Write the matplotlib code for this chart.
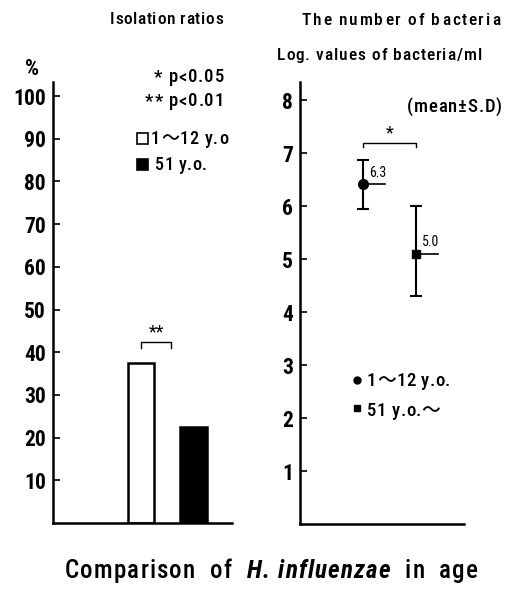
import numpy as np
import matplotlib.pyplot as plt

plt.rcParams['font.family'] = ['Roboto Condensed', 'DejaVu Sans', 'Noto Sans CJK JP']

# isolation ratios (%)
groups = ['1～12 y.o', '51 y.o.']
isolation = [37.5, 22.5]
pct_ticks = [10, 20, 30, 40, 50, 60, 70, 80, 90, 100]

# log values of bacteria/ml
point_groups = ['1～12 y.o.', '51 y.o.～']
means = [6.42, 5.1]
sd_low = [0.47, 0.8]
sd_high = [0.44, 0.9]
mean_labels = ['6.3', '5.0']
log_ticks = [1, 2, 3, 4, 5, 6, 7, 8]

W, H = 514, 593
fig = plt.figure(figsize=(W / 100, H / 100), dpi=100)
renderer = fig.canvas.get_renderer()


def box(x0, x1, top, bottom):
    return [x0 / W, (H - bottom) / H, (x1 - x0) / W, (bottom - top) / H]


def ink(s, kw):
    t = fig.text(0, 0, s, **kw)
    w = t.get_window_extent(renderer).width
    t.remove()
    return w


def spaced(x0, x1, base, parts, size):
    # letter-spaced text filling x0..x1 (pixels from the left), baseline at base (from top)
    chars = []
    for s, style in parts:
        kw = dict(fontsize=size, **style)
        nn = ink('nn', kw)
        for ch in s:
            chars.append((ch, ink('n' + ch + 'n', kw) - nn, kw))
    gap = max(0.5, (x1 - x0 - sum(c[1] for c in chars)) / (len(chars) - 1))
    x = x0
    for ch, w, kw in chars:
        if ch != ' ':
            fig.text(x / W, 1 - base / H, ch, ha='left', va='baseline', **kw)
        x += w + gap


ax1 = fig.add_axes(box(53, 232, 82, 523))
ax2 = fig.add_axes(box(300, 464, 82, 524))

for ax in (ax1, ax2):
    for s in ('top', 'right'):
        ax.spines[s].set_visible(False)
    for s in ('left', 'bottom'):
        ax.spines[s].set_linewidth(1.8)
    ax.tick_params(axis='y', direction='in', length=5, width=1.2, pad=5,
                   labelsize=15.5)
    ax.tick_params(axis='x', bottom=False, labelbottom=False)

# left panel: bars
xpos = [1.7, 2.7]
ax1.bar(xpos[0], isolation[0], 0.5, color='white', edgecolor='black', linewidth=1.8)
ax1.bar(xpos[1], isolation[1], 0.5, color='black', edgecolor='black', linewidth=1.8)
ax1.set_xlim(0, 3.44)
ax1.set_ylim(0, 103.3)
ax1.set_yticks(pct_ticks)
ax1.set_yticklabels([str(t) for t in pct_ticks], fontweight='bold')

bx = [xpos[0], xpos[0], xpos[0] + 0.56, xpos[0] + 0.56]
ax1.plot(bx, [41.0, 42.4, 42.4, 41.0], color='black', lw=1)
ax1.text(np.mean(bx), 42.6, '**', ha='center', va='bottom', fontsize=13)

ax1.bar(1.72, 2.6, 0.21, bottom=88.8, color='white', edgecolor='black', lw=1.2)
ax1.bar(1.72, 2.6, 0.21, bottom=82.7, color='black', edgecolor='black', lw=1.2)

ax1.text(-0.4, 106.3, '%', ha='center', va='center', fontsize=16, fontweight='bold',
         clip_on=False)

# right panel: mean +- SD
px = [1.2, 2.2]
ax2.errorbar(px, means, yerr=[sd_low, sd_high], fmt='none', ecolor='black',
             elinewidth=1.5, capsize=4, capthick=1.5)
ax2.plot(px[0], means[0], 'o', color='black', markersize=7)
ax2.plot(px[1], means[1], 's', color='black', markersize=6)
for x, m, lab in zip(px, means, mean_labels):
    ax2.plot([x, x + 0.41], [m, m], color='black', lw=1.2)
    ax2.text(x + 0.1, m + 0.08, lab, ha='left', va='bottom', fontsize=10)
ax2.set_xlim(0, 3.1)
ax2.set_ylim(0, 8.34)
ax2.set_yticks(log_ticks)
ax2.set_yticklabels([str(t) for t in log_ticks], fontweight='bold')

ax2.plot([px[0], px[0], px[1], px[1]], [7.11, 7.19, 7.19, 7.11], color='black', lw=1)
ax2.text(np.mean(px), 7.2, '*', ha='center', va='bottom', fontsize=13)

ax2.plot(1.07, 2.72, 'o', color='black', markersize=5)
ax2.plot(1.07, 2.19, 's', color='black', markersize=4)

# texts
med = dict(fontweight='medium')
spaced(110, 223, 24, [('Isolation ratios', med)], 12.5)
spaced(302, 500, 25, [('The number of bacteria', med)], 12.5)
spaced(277, 482, 60, [('Log. values of bacteria/ml', med)], 12.5)
spaced(407, 502, 112, [('(mean±S.D)', med)], 13.5)
spaced(154, 224, 82, [('* p<0.05', med)], 13.5)
spaced(145, 224, 106, [('** p<0.01', med)], 13.5)
spaced(151, 228, 144, [(groups[0], med)], 13)
spaced(155, 204, 170, [(groups[1], med)], 13)
spaced(367, 450, 386, [(point_groups[0], med)], 13.5)
spaced(367, 437, 416, [(point_groups[1], med)], 13.5)

spaced(65, 478, 578, [('Comparison  of  ', med),
                      ('H. influenzae', dict(fontweight='bold', fontstyle='italic')),
                      ('  in  age', med)], 18)

fig.savefig('out.png', dpi=100)
